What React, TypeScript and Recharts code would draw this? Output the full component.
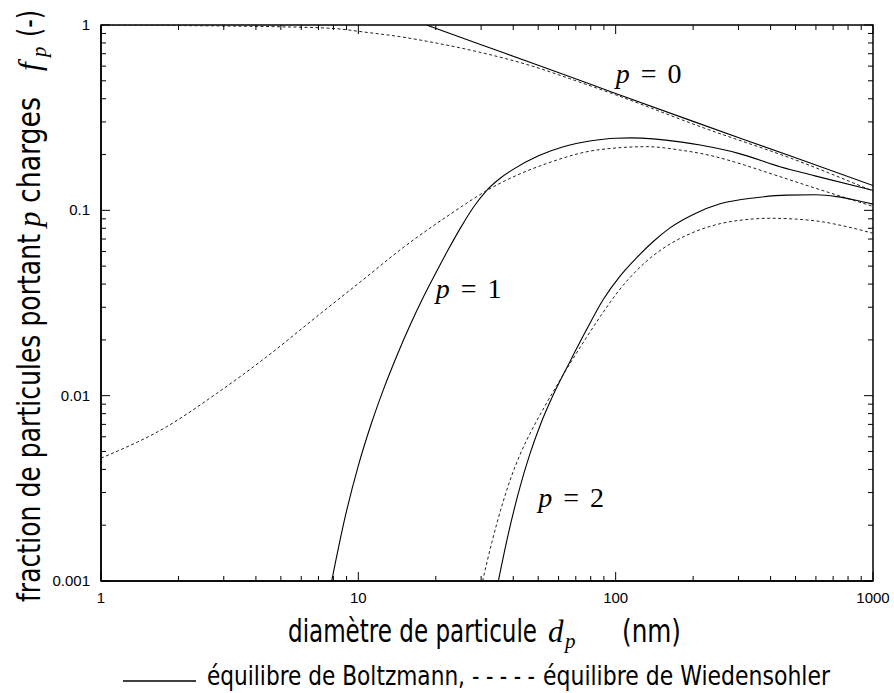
import React from 'react';
import { LineChart, Line, XAxis, YAxis, ReferenceDot, ReferenceArea } from 'recharts';

// ---------- axes ----------
const xMajor = [1, 10, 100, 1000];
const xMinor = [2, 3, 4, 5, 6, 7, 8, 9, 20, 30, 40, 50, 60, 70, 80, 90, 200, 300, 400, 500, 600, 700, 800, 900];
const xTickLabels = ['1', '10', '100', '1000'];
const yMajor = [0.001, 0.01, 0.1, 1];
const yMinor = [0.002, 0.003, 0.004, 0.005, 0.006, 0.007, 0.008, 0.009, 0.02, 0.03, 0.04, 0.05, 0.06, 0.07, 0.08, 0.09, 0.2, 0.3, 0.4, 0.5, 0.6, 0.7, 0.8, 0.9];
const yTickLabels = ['0.001', '0.01', '0.1', '1'];
const X_MIN = 1, X_MAX = 1000, Y_MIN = 0.001, Y_MAX = 1;

// ---------- series (d in nm, f fraction) ----------
const boltzmann0 = [
  { d: 18.4, f: 1 }, { d: 30, f: 0.783 }, { d: 50, f: 0.607 }, { d: 100, f: 0.427 },
  { d: 200, f: 0.302 }, { d: 500, f: 0.192 }, { d: 1000, f: 0.136 },
];
const wiedensohler0 = [
  { d: 1, f: 0.997 }, { d: 2, f: 0.993 }, { d: 3, f: 0.988 }, { d: 5, f: 0.978 }, { d: 8, f: 0.958 },
  { d: 10.8, f: 0.912 }, { d: 14.5, f: 0.865 }, { d: 20, f: 0.8 }, { d: 30, f: 0.71 }, { d: 46.5, f: 0.605 },
  { d: 70, f: 0.5 }, { d: 100, f: 0.42 }, { d: 213, f: 0.283 }, { d: 521, f: 0.183 }, { d: 1000, f: 0.127 },
];
const boltzmann1 = [
  { d: 7.88, f: 0.001 }, { d: 8.91, f: 0.00225 }, { d: 10, f: 0.00419 }, { d: 11.22, f: 0.00703 },
  { d: 12.59, f: 0.01102 }, { d: 14.13, f: 0.01648 }, { d: 15.85, f: 0.02382 }, { d: 17.78, f: 0.03345 },
  { d: 19.95, f: 0.04565 }, { d: 22.39, f: 0.06159 }, { d: 25.12, f: 0.08166 }, { d: 28.18, f: 0.1052 },
  { d: 31.62, f: 0.1287 }, { d: 35.48, f: 0.1486 }, { d: 39.81, f: 0.1658 }, { d: 50.12, f: 0.197 },
  { d: 63.1, f: 0.221 }, { d: 79.4, f: 0.2368 }, { d: 100, f: 0.2451 }, { d: 115, f: 0.246 },
  { d: 178, f: 0.234 }, { d: 213, f: 0.225 }, { d: 300, f: 0.203 }, { d: 435, f: 0.172 },
  { d: 600, f: 0.153 }, { d: 1000, f: 0.128 },
];
const wiedensohler1 = [
  { d: 1, f: 0.0046 }, { d: 1.8, f: 0.0068 }, { d: 2.82, f: 0.0103 }, { d: 4.4, f: 0.0162 },
  { d: 6.89, f: 0.0267 }, { d: 10.78, f: 0.0438 }, { d: 14.5, f: 0.061 }, { d: 22, f: 0.0923 },
  { d: 33.5, f: 0.134 }, { d: 54, f: 0.179 }, { d: 84.5, f: 0.2115 }, { d: 132, f: 0.2205 },
  { d: 178, f: 0.2115 }, { d: 213, f: 0.203 }, { d: 435, f: 0.152 }, { d: 521, f: 0.14 }, { d: 1000, f: 0.105 },
];
const boltzmann2 = [
  { d: 35, f: 0.001 }, { d: 38, f: 0.00172 }, { d: 42.5, f: 0.00322 }, { d: 46.5, f: 0.00488 },
  { d: 50.9, f: 0.00693 }, { d: 58, f: 0.01052 }, { d: 66.5, f: 0.01531 }, { d: 77, f: 0.02265 },
  { d: 89.6, f: 0.0331 }, { d: 104, f: 0.04416 }, { d: 120.8, f: 0.0556 }, { d: 140, f: 0.0679 },
  { d: 162.6, f: 0.0804 }, { d: 203, f: 0.0959 }, { d: 254.5, f: 0.1084 }, { d: 350, f: 0.117 },
  { d: 462, f: 0.1208 }, { d: 600, f: 0.1213 }, { d: 723, f: 0.1186 }, { d: 850, f: 0.1138 }, { d: 1000, f: 0.108 },
];
const wiedensohler2 = [
  { d: 30.4, f: 0.001 }, { d: 33, f: 0.00161 }, { d: 36.6, f: 0.0027 }, { d: 39.5, f: 0.00372 },
  { d: 42.5, f: 0.00481 }, { d: 47, f: 0.00644 }, { d: 52.7, f: 0.00863 }, { d: 59, f: 0.01132 },
  { d: 66.5, f: 0.01493 }, { d: 77, f: 0.0206 }, { d: 89.6, f: 0.0283 }, { d: 104, f: 0.0376 },
  { d: 120.8, f: 0.0474 }, { d: 140, f: 0.057 }, { d: 162.6, f: 0.0658 }, { d: 200, f: 0.076 },
  { d: 254.5, f: 0.0847 }, { d: 320, f: 0.0891 }, { d: 398, f: 0.0906 }, { d: 500, f: 0.0897 },
  { d: 622, f: 0.0871 }, { d: 800, f: 0.0813 }, { d: 1000, f: 0.0752 },
];

// curve labels "p = n", anchored at their left baseline (data coords)
const curveLabels = [
  { d: 100, f: 0.486, n: '0' },
  { d: 20, f: 0.0336, n: '1' },
  { d: 50, f: 0.0025, n: '2' },
];

const SANS = 'DejaVu Sans';
const SERIF = 'Liberation Serif';
const TICKFONT = 'Liberation Sans';

// chart box (the plot area follows from these margins and axis sizes)
const W = 894, H = 693;
const M_TOP = 25, M_RIGHT = 21, Y_AXIS_W = 101, X_AXIS_H = 112;
const PLOT_L = Y_AXIS_W, PLOT_R = W - M_RIGHT, PLOT_T = M_TOP, PLOT_B = H - X_AXIS_H;
const logPos = (v: number, lo: number, hi: number, a: number, b: number) =>
  a + ((Math.log10(v) - Math.log10(lo)) / (Math.log10(hi) - Math.log10(lo))) * (b - a);

const majorIndex = (arr: number[], v: number) =>
  arr.findIndex((m) => Math.abs(Math.log10(m) - Math.log10(v)) < 1e-6);

const BottomLabel = (props: any) => {
  const { x, y, payload } = props;
  const i = majorIndex(xMajor, payload.value);
  if (i < 0) return <g />;
  return (
    <text x={x} y={y + 22} textAnchor="middle" fontFamily={TICKFONT} fontSize={15} fill="#000">
      {xTickLabels[i]}
    </text>
  );
};
const LeftLabel = (props: any) => {
  const { x, y, payload } = props;
  const i = majorIndex(yMajor, payload.value);
  if (i < 0) return <g />;
  return (
    <text x={x - 11} y={y + 5} textAnchor="end" fontFamily={TICKFONT} fontSize={15} fill="#000">
      {yTickLabels[i]}
    </text>
  );
};

const makeLabel = (n: string) => (props: any) => {
  const { cx, cy } = props;
  return (
    <text x={cx} y={cy} fontFamily={SERIF} fontSize={28} fill="#000">
      <tspan fontStyle="italic">p</tspan>
      <tspan dx={11}>=</tspan>
      <tspan dx={11}>{n}</tspan>
    </text>
  );
};

const MAJ = 9;
const MIN = 5;

const axisStroke = { stroke: '#000', strokeWidth: 1.5 };
const logX = { type: 'number' as const, scale: 'log' as const, domain: [X_MIN, X_MAX], allowDataOverflow: true, interval: 0 as const };
const logY = { type: 'number' as const, scale: 'log' as const, domain: [Y_MIN, Y_MAX], allowDataOverflow: true, interval: 0 as const };

export default function App() {
  const xTickDefs = [
    ...xMajor.map((v) => ({ v, len: MAJ })),
    ...xMinor.map((v) => ({ v, len: MIN })),
  ];
  const yTickDefs = [
    ...yMajor.map((v) => ({ v, len: MAJ })),
    ...yMinor.map((v) => ({ v, len: MIN })),
  ];
  const lineCommon = { xAxisId: 'x', yAxisId: 'y', dataKey: 'f', type: 'monotone' as const, dot: false, activeDot: false, isAnimationActive: false, fill: 'none' };
  return (
    <div style={{ position: 'absolute', left: 0, top: 0, width: W, height: H, background: '#fff' }}>
      <LineChart width={W} height={H} margin={{ top: M_TOP, right: M_RIGHT, bottom: 0, left: 0 }}>
        <XAxis xAxisId="x" dataKey="d" {...logX} ticks={xMajor} tickSize={0} tickMargin={0}
          tick={<BottomLabel />} tickLine={false} axisLine={axisStroke} height={X_AXIS_H} />
        <YAxis yAxisId="y" {...logY} ticks={yMajor} tickSize={0} tickMargin={0}
          tick={<LeftLabel />} tickLine={false} axisLine={axisStroke} width={Y_AXIS_W} />
        <Line {...lineCommon} data={boltzmann0} stroke="#000" strokeWidth={1.1} />
        <Line {...lineCommon} data={wiedensohler0} stroke="#222" strokeWidth={1} strokeDasharray="3 2.5" />
        <Line {...lineCommon} data={boltzmann1} stroke="#000" strokeWidth={1.1} />
        <Line {...lineCommon} data={wiedensohler1} stroke="#222" strokeWidth={1} strokeDasharray="3 2.5" />
        <Line {...lineCommon} data={boltzmann2} stroke="#000" strokeWidth={1.1} />
        <Line {...lineCommon} data={wiedensohler2} stroke="#222" strokeWidth={1} strokeDasharray="3 2.5" />
        {curveLabels.map((c) => (
          <ReferenceDot key={c.n} xAxisId="x" yAxisId="y" x={c.d} y={c.f} r={0} shape={makeLabel(c.n)} />
        ))}
        {/* frame */}
        <ReferenceArea xAxisId="x" yAxisId="y" x1={X_MIN} x2={X_MAX} y1={Y_MIN} y2={Y_MAX} fill="none" fillOpacity={0} stroke="#000" strokeWidth={1.5} ifOverflow="visible" />
      </LineChart>
      <svg width={W} height={H} style={{ position: 'absolute', left: 0, top: 0, pointerEvents: 'none' }}>
        {/* inward tick marks on all four sides of the plot box */}
        {xTickDefs.map((t) => {
          const x = logPos(t.v, X_MIN, X_MAX, PLOT_L, PLOT_R);
          return (
            <g key={`xt${t.v}`}>
              <line x1={x} y1={PLOT_B} x2={x} y2={PLOT_B - t.len} stroke="#000" strokeWidth={1} />
              <line x1={x} y1={PLOT_T} x2={x} y2={PLOT_T + t.len} stroke="#000" strokeWidth={1} />
            </g>
          );
        })}
        {yTickDefs.map((t) => {
          const y = logPos(t.v, Y_MIN, Y_MAX, PLOT_B, PLOT_T);
          return (
            <g key={`yt${t.v}`}>
              <line x1={PLOT_L} y1={y} x2={PLOT_L + t.len} y2={y} stroke="#000" strokeWidth={1} />
              <line x1={PLOT_R} y1={y} x2={PLOT_R - t.len} y2={y} stroke="#000" strokeWidth={1} />
            </g>
          );
        })}
        {/* x axis title */}
        <text x={288} y={642} fontFamily={SANS} fontSize={32} textLength={249} lengthAdjust="spacingAndGlyphs" fill="#000">diamètre de particule</text>
        <text x={548} y={642} fontFamily={SERIF} fontStyle="italic" fontSize={31} fill="#000">d</text>
        <text x={565} y={648} fontFamily={SERIF} fontStyle="italic" fontSize={21} fill="#000">p</text>
        <text x={622} y={642} fontFamily={SANS} fontSize={32} textLength={59} lengthAdjust="spacingAndGlyphs" fill="#000">(nm)</text>
        {/* y axis title */}
        <g transform="translate(40,602) rotate(-90)">
          <text x={0} y={0} fontFamily={SANS} fontSize={32} textLength={368} lengthAdjust="spacingAndGlyphs" fill="#000">fraction de particules portant</text>
          <text x={375} y={0} fontFamily={SERIF} fontStyle="italic" fontSize={31} fill="#000">p</text>
          <text x={399} y={0} fontFamily={SANS} fontSize={32} textLength={106} lengthAdjust="spacingAndGlyphs" fill="#000">charges</text>
          <text x={531} y={0} fontFamily={SERIF} fontStyle="italic" fontSize={31} fill="#000">f</text>
          <text x={545} y={6} fontFamily={SERIF} fontStyle="italic" fontSize={21} fill="#000">p</text>
          <text x={565} y={0} fontFamily={SANS} fontSize={32} textLength={27} lengthAdjust="spacingAndGlyphs" fill="#000">(-)</text>
        </g>
        {/* legend */}
        <line x1={123} y1={681} x2={196} y2={681} stroke="#000" strokeWidth={1.6} />
        <text x={207} y={685} fontFamily={SANS} fontSize={27} textLength={258} lengthAdjust="spacingAndGlyphs" fill="#000">équilibre de Boltzmann,</text>
        <text x={472} y={685} fontFamily={SANS} fontSize={27} textLength={63} lengthAdjust="spacingAndGlyphs" fill="#000">- - - - -</text>
        <text x={543} y={685} fontFamily={SANS} fontSize={27} textLength={287} lengthAdjust="spacingAndGlyphs" fill="#000">équilibre de Wiedensohler</text>
      </svg>
    </div>
  );
}
